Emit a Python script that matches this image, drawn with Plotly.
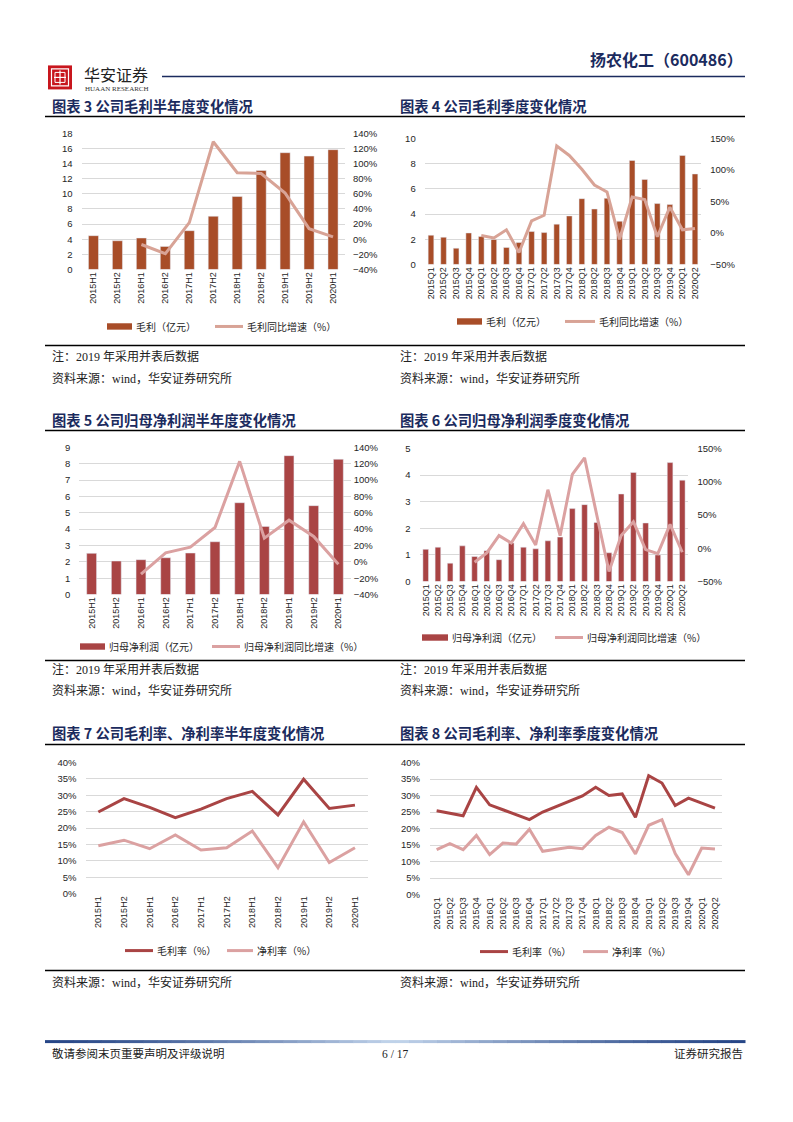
import plotly.graph_objects as go

W, H = 793, 1122

# ---------------- data ----------------
half_labels = ["2015H1", "2015H2", "2016H1", "2016H2", "2017H1", "2017H2",
               "2018H1", "2018H2", "2019H1", "2019H2", "2020H1"]
quarter_labels = ["2015Q1", "2015Q2", "2015Q3", "2015Q4",
                  "2016Q1", "2016Q2", "2016Q3", "2016Q4",
                  "2017Q1", "2017Q2", "2017Q3", "2017Q4",
                  "2018Q1", "2018Q2", "2018Q3", "2018Q4",
                  "2019Q1", "2019Q2", "2019Q3", "2019Q4",
                  "2020Q1", "2020Q2"]

gross_profit_half = [4.47, 3.80, 4.16, 3.05, 5.13, 7.04, 9.65, 13.10, 15.45, 15.00, 15.85]
gross_profit_half_yoy = [None, None, -7, -19, 22, 129, 88, 87, 61, 14, 3]

gross_profit_q = [2.32, 2.16, 1.29, 2.50, 2.22, 1.98, 1.35, 1.74, 2.61, 2.53, 3.20,
                  3.85, 5.22, 4.40, 5.25, 3.43, 8.25, 6.75, 4.83, 4.75, 8.65, 7.18]
gross_profit_q_yoy = [None, None, None, None, -4, -8, 5, -31, 19, 28, 138,
                      123, 101, 76, 65, -10, 57, 53, -6, 41, 5, 7]

net_profit_half = [2.52, 2.05, 2.13, 2.25, 2.54, 3.23, 5.62, 4.17, 8.50, 5.44, 8.28]
net_profit_half_yoy = [None, None, -15, 11, 18, 42, 123, 29, 51, 31, -3]

net_profit_q = [1.21, 1.29, 0.69, 1.34, 0.94, 1.16, 0.82, 1.45, 1.29, 1.23, 1.53,
                1.67, 2.74, 2.89, 2.22, 1.08, 3.29, 4.10, 2.20, 1.00, 4.47, 3.81]
net_profit_q_yoy = [None, None, None, None, -21, -7, 19, 8, 37, 5, 88,
                    19, 111, 136, 50, -35, 19, 40, -2, -8, 36, -6]

gross_margin_half = [24.9, 29.0, 26.3, 23.2, 25.8, 29.0, 31.2, 24.0, 34.9, 26.0, 27.0]
net_margin_half = [14.6, 16.3, 13.7, 17.9, 13.3, 14.0, 19.1, 7.9, 21.9, 9.5, 14.0]

gross_margin_q = [25.4, 24.7, 23.9, 32.5, 27.2, 25.7, 24.2, 22.7, 25.0, 26.7, 28.2,
                  29.9, 32.5, 30.0, 30.5, 23.4, 36.0, 33.8, 27.0, 29.2, 27.7, 26.2]
net_margin_q = [13.6, 15.4, 13.6, 17.9, 12.1, 15.6, 15.3, 19.8, 13.1, 13.6, 14.3,
                13.9, 17.9, 20.4, 18.8, 12.3, 21.0, 22.7, 12.4, 6.0, 14.1, 13.8]

# ---------------- styles ----------------
BROWN = "#A84D28"
SALMON = "#D8A396"
DRED = "#A94444"
PINK = "#DBA1A1"
GRID = "#D9D9D9"
NAVY = "#1B2B5E"
TICKFONT = dict(family="Liberation Sans, Arial, sans-serif", size=9.5, color="#262626")
XTICKFONT = dict(family="Liberation Sans, Arial, sans-serif", size=9, color="#262626")
CJK = "Noto Sans CJK SC"
NOTEFONT = dict(family="Liberation Serif, Noto Sans CJK SC", size=12, color="#222222")
LEGFONT = dict(family=CJK, size=10, color="#262626")


def px(x):
    return x / W


def py(y):
    yc = (y - 6.6) / 0.990
    return 1 - yc / H


fig = go.Figure()
layout = dict(width=W, height=H, margin=dict(l=0, r=0, t=0, b=0),
              paper_bgcolor="white", plot_bgcolor="white", showlegend=False,
              hovermode=False)


def xaxis(x0, x1, anchor, n):
    return dict(domain=[px(x0), px(x1)], anchor=anchor, type="category",
                range=[-0.5, n - 0.5], tickangle=-90, tickfont=XTICKFONT,
                showgrid=False, showline=False, zeroline=False, ticks="",
                fixedrange=True)


def yleft(y0, y1, anchor, rng, dtick, suffix="", standoff=6):
    return dict(domain=[py(y1), py(y0)], anchor=anchor, range=rng, dtick=dtick,
                tick0=0, showgrid=True, gridcolor=GRID, gridwidth=1,
                zeroline=False, showline=False, ticks="", ticksuffix=suffix,
                tickfont=TICKFONT, fixedrange=True, ticklabelstandoff=standoff)


def yright(over, anchor, rng, dtick, standoff=6):
    return dict(overlaying=over, side="right", anchor=anchor, range=rng,
                dtick=dtick, tick0=0, showgrid=False, zeroline=False,
                showline=False, ticks="", ticksuffix="%", tickfont=TICKFONT,
                fixedrange=True, ticklabelstandoff=standoff)


# chart 3
layout["xaxis"] = xaxis(81.5, 345, "y", len(half_labels))
layout["yaxis"] = yleft(134, 270, "x", [0, 18], 2, standoff=8)
layout["yaxis2"] = yright("y", "x", [-40, 140], 20, standoff=7)
fig.add_bar(x=half_labels, y=gross_profit_half, marker_color=BROWN,
            xaxis="x", yaxis="y", width=0.42)
fig.add_scatter(x=half_labels, y=gross_profit_half_yoy, mode="lines",
                line=dict(color=SALMON, width=3), xaxis="x", yaxis="y2")

# chart 4
layout["xaxis2"] = xaxis(424.7, 701.3, "y3", len(quarter_labels))
layout["yaxis3"] = yleft(139, 265, "x2", [0, 10], 2, standoff=8)
layout["yaxis4"] = yright("y3", "x2", [-50, 150], 50, standoff=8)
fig.add_bar(x=quarter_labels, y=gross_profit_q, marker_color=BROWN,
            xaxis="x2", yaxis="y3", width=0.45)
fig.add_scatter(x=quarter_labels, y=gross_profit_q_yoy, mode="lines",
                line=dict(color=SALMON, width=3), xaxis="x2", yaxis="y4")

# chart 5
layout["xaxis3"] = xaxis(79.3, 350.7, "y5", len(half_labels))
layout["yaxis5"] = yleft(448, 595, "x3", [0, 9], 1, standoff=8)
layout["yaxis6"] = yright("y5", "x3", [-40, 140], 20, standoff=2)
fig.add_bar(x=half_labels, y=net_profit_half, marker_color=DRED,
            xaxis="x3", yaxis="y5", width=0.4)
fig.add_scatter(x=half_labels, y=net_profit_half_yoy, mode="lines",
                line=dict(color=PINK, width=3), xaxis="x3", yaxis="y6")

# chart 6
layout["xaxis4"] = xaxis(419.6, 688.4, "y7", len(quarter_labels))
layout["yaxis7"] = yleft(449, 582, "x4", [0, 5], 1, standoff=8)
layout["yaxis8"] = yright("y7", "x4", [-50, 150], 50, standoff=8)
fig.add_bar(x=quarter_labels, y=net_profit_q, marker_color=DRED,
            xaxis="x4", yaxis="y7", width=0.46)
fig.add_scatter(x=quarter_labels, y=net_profit_q_yoy, mode="lines",
                line=dict(color=PINK, width=3), xaxis="x4", yaxis="y8")

# chart 7
layout["xaxis5"] = xaxis(85.5, 367.8, "y9", len(half_labels))
layout["yaxis9"] = yleft(763, 894, "x5", [0, 40], 5, suffix="%", standoff=8)
fig.add_scatter(x=half_labels, y=gross_margin_half, mode="lines",
                line=dict(color=DRED, width=3), xaxis="x5", yaxis="y9")
fig.add_scatter(x=half_labels, y=net_margin_half, mode="lines",
                line=dict(color=PINK, width=3), xaxis="x5", yaxis="y9")

# chart 8
layout["xaxis6"] = xaxis(430, 721.6, "y10", len(quarter_labels))
layout["yaxis10"] = yleft(763, 895, "x6", [0, 40], 5, suffix="%", standoff=9)
fig.add_scatter(x=quarter_labels, y=gross_margin_q, mode="lines",
                line=dict(color=DRED, width=3), xaxis="x6", yaxis="y10")
fig.add_scatter(x=quarter_labels, y=net_margin_q, mode="lines",
                line=dict(color=PINK, width=3), xaxis="x6", yaxis="y10")

shapes = []
annotations = []


def text(x, y, s, font, anchor="left"):
    annotations.append(dict(x=px(x), y=py(y), xref="paper", yref="paper",
                            text=s, showarrow=False, xanchor=anchor,
                            yanchor="middle", font=font))


def hline(x0, x1, y, color="#000000", width=1.5):
    shapes.append(dict(type="line", xref="paper", yref="paper",
                       x0=px(x0), x1=px(x1), y0=py(y), y1=py(y),
                       line=dict(color=color, width=width)))


def rect(x0, x1, y0, y1, fill, line_color=None, lw=0):
    shapes.append(dict(type="rect", xref="paper", yref="paper",
                       x0=px(x0), x1=px(x1), y0=py(y1), y1=py(y0),
                       fillcolor=fill,
                       line=dict(color=line_color or fill, width=lw)))


def leg_bar(x0, x1, y, color, label):
    rect(x0, x1, y - 3.2, y + 3.2, color)
    text(x1 + 2, y, label, LEGFONT)


def leg_line(x0, x1, y, color, label):
    hline(x0, x1, y, color=color, width=3)
    text(x1 + 2, y, label, LEGFONT)


# ---- header ----
rect(48, 72, 66, 90, "#C8161D")
rect(51.5, 68.5, 69.5, 86.5, "rgba(0,0,0,0)", "white", 1.2)
hline(54, 66, 78, color="white", width=1.2)
shapes.append(dict(type="line", xref="paper", yref="paper", x0=px(60), x1=px(60),
                   y0=py(71), y1=py(85), line=dict(color="white", width=1.2)))
rect(55, 65, 73, 83, "rgba(0,0,0,0)", "white", 1.0)
text(82, 75, "华安证券", dict(family=CJK, size=16, color="#222222"))
text(83, 90, "HUAAN RESEARCH", dict(family="Liberation Serif", size=7, color="#333333"))
hline(162, 745, 77, color=NAVY, width=1.5)
text(745, 60, "<b>扬农化工（600486）</b>", dict(family=CJK, size=16, color=NAVY), anchor="right")

# ---- titles / notes ----
TITLEFONT = dict(family=CJK, size=14.3, color=NAVY)
for (y, t1, t2) in [(106, "图表 3 公司毛利半年度变化情况", "图表 4 公司毛利季度变化情况"),
                    (420, "图表 5 公司归母净利润半年度变化情况", "图表 6 公司归母净利润季度变化情况"),
                    (733, "图表 7 公司毛利率、净利率半年度变化情况", "图表 8 公司毛利率、净利率季度变化情况")]:
    text(50, y, "<b>" + t1 + "</b>", TITLEFONT)
    text(398, y, "<b>" + t2 + "</b>", TITLEFONT)

for y in (117, 431, 745):
    hline(45, 745, y, width=1.5)
for y in (346, 661, 971):
    hline(45, 745, y, width=1.5)

note = "注：2019 年采用并表后数据"
source = "资料来源：wind，华安证券研究所"
for (yn, ys) in [(357, 379), (670, 691)]:
    text(50, yn, note, NOTEFONT)
    text(398, yn, note, NOTEFONT)
    text(50, ys, source, NOTEFONT)
    text(398, ys, source, NOTEFONT)
text(50, 983, source, NOTEFONT)
text(398, 983, source, NOTEFONT)

# ---- legends ----
leg_bar(107, 132, 327, BROWN, "毛利（亿元）")
leg_line(215, 243, 327, SALMON, "毛利同比增速（%）")
leg_bar(457, 482, 322, BROWN, "毛利（亿元）")
leg_line(565, 595, 322, SALMON, "毛利同比增速（%）")
leg_bar(80, 105, 647, DRED, "归母净利润（亿元）")
leg_line(212, 240, 647, PINK, "归母净利润同比增速（%）")
leg_bar(422, 448, 638, DRED, "归母净利润（亿元）")
leg_line(555, 583, 638, PINK, "归母净利润同比增速（%）")
leg_line(125, 153, 951, DRED, "毛利率（%）")
leg_line(227, 253, 951, PINK, "净利率（%）")
leg_line(480, 508, 952, DRED, "毛利率（%）")
leg_line(583, 608, 952, PINK, "净利率（%）")

# ---- footer ----
c_dark = (38, 70, 135)
c_light = (196, 214, 236)
nseg = 50
for i in range(nseg):
    t = (i + 0.5) / nseg
    k = 1 - abs(2 * t - 1)
    k = k ** 1.3
    col = tuple(int(c_dark[j] + (c_light[j] - c_dark[j]) * k) for j in range(3))
    xa = 45 + 700 * i / nseg
    xb = 45 + 700 * (i + 1) / nseg + 0.5
    rect(xa, xb, 1040.5, 1043.5, "rgb(%d,%d,%d)" % col)

FOOTFONT = dict(family="Liberation Serif, Noto Sans CJK SC", size=11.5, color="#222222")
text(50, 1054, "敬请参阅末页重要声明及评级说明", FOOTFONT)
text(395, 1054, "6 / 17", FOOTFONT, anchor="center")
text(745, 1054, "证券研究报告", FOOTFONT, anchor="right")

layout["shapes"] = shapes
layout["annotations"] = annotations
fig.update_layout(**layout)
fig.write_html("out.html", config={"displayModeBar": False},
               post_script="document.body.style.margin='0';document.body.style.overflow='hidden';")
